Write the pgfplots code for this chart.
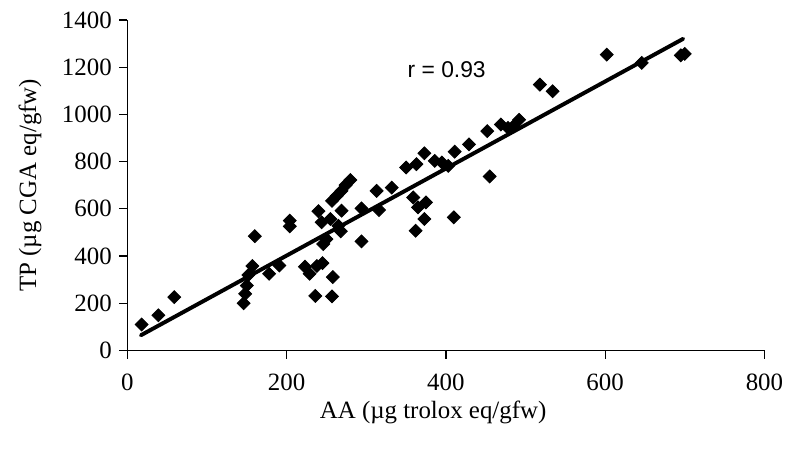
\documentclass[border=0pt]{standalone}
\usepackage{fontspec}
\setmainfont{Liberation Serif}
\newfontfamily\arialfont{Liberation Sans}
\usepackage{pgfplots}
\pgfplotsset{compat=1.18}
\begin{document}
\begin{tikzpicture}
\begin{axis}[
  name=ax,
  scale only axis,
  width=307.2pt, height=159.4pt,
  xmin=0, xmax=800, ymin=0, ymax=1400,
  xtick={0,200,...,800}, ytick={0,200,...,1400},
  axis lines=left,
  axis line style={-, line width=0.6pt},
  tick style={black, line width=0.6pt},
  tick align=outside,
  major tick length=4pt,
  /pgf/number format/assume math mode=true,
  /pgf/number format/1000 sep={},
  ticklabel style={font=\fontsize{12}{14}\selectfont},
  xticklabel style={yshift=-4pt},
  label style={font=\fontsize{12}{14}\selectfont},
  xlabel={AA (µg trolox eq/gfw)},
  ylabel={TP (µg CGA eq/gfw)},
  xlabel style={at={(axis description cs:0.48,0)}, anchor=north, yshift=-20.8pt},
  ylabel style={at={(axis description cs:0,0.5)}, anchor=south, inner ysep=3pt, yshift=38.2pt},
  clip=false,
]
\addplot[only marks, mark=square*, mark size=2.2pt, mark options={rotate=45, fill=black, draw=black}] coordinates {
(18,110) (39,149) (59,226) (146,200) (148,240) (150,275) (152,320) (157,358)
(160,484) (178,325) (191,360) (204,550) (204,526) (223,355) (229,325) (236,231)
(238,358) (245,370) (258,311) (257,229) (246,451) (250,472) (240,590) (244,543)
(257,634) (263,655) (269,676) (274,700) (280,722) (255,557) (265,528) (268,505)
(269,592) (294,462) (294,602) (313,676) (316,595) (332,690) (350,775) (363,789)
(373,835) (386,803) (395,796) (403,782) (359,648) (365,606) (375,627) (373,557)
(362,507) (410,564) (411,842) (429,873) (452,929) (455,737) (469,957) (478,943)
(485,950) (492,977) (518,1126) (534,1098) (602,1253) (646,1218) (695,1250) (700,1256)
};
\addplot[black, line width=1.9pt, line cap=round] coordinates {(17,64.5) (698,1320)};
\node[font=\arialfont\fontsize{11}{13}\selectfont] at (axis cs:401,1189) {r = 0.93};
\end{axis}
\path ([xshift=-61.4pt,yshift=-51.4pt]ax.south west) rectangle ([xshift=10.6pt,yshift=9.6pt]ax.north east);
\end{tikzpicture}
\end{document}
